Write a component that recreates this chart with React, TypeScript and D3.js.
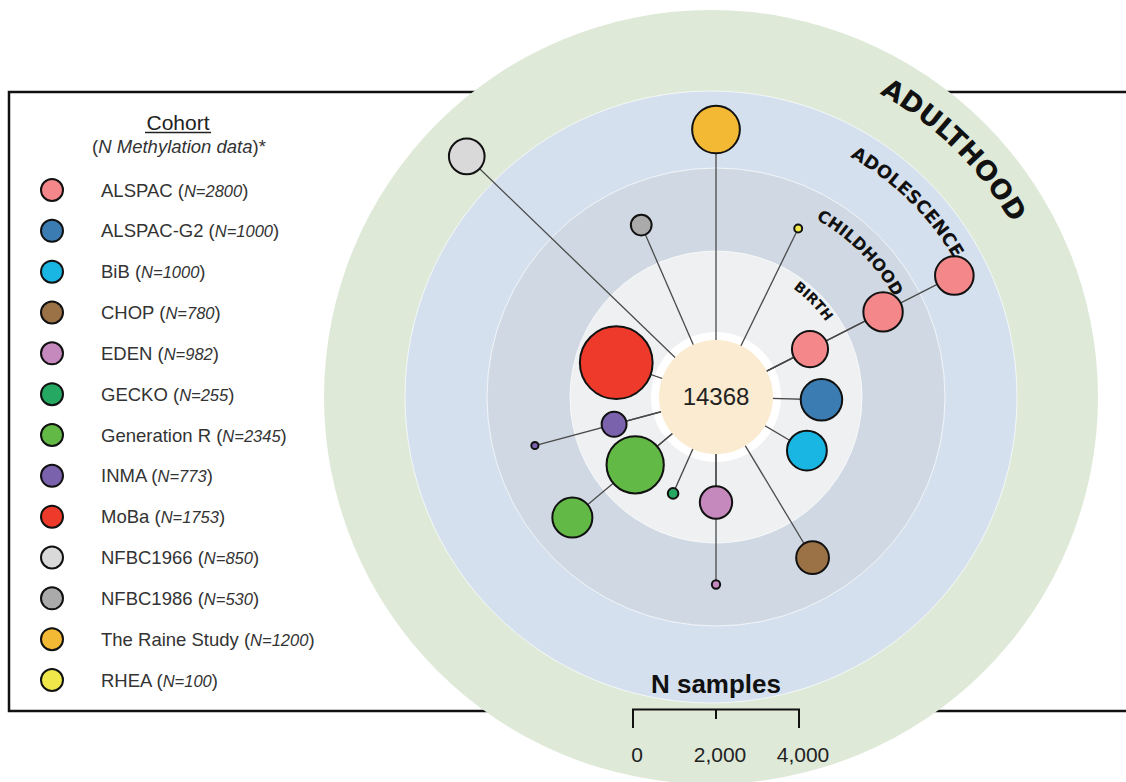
import React from "react";
import * as d3 from "d3";

// ---------- data ----------
const cohorts = ["ALSPAC", "ALSPAC-G2", "BiB", "CHOP", "EDEN", "GECKO", "Generation R", "INMA", "MoBa", "NFBC1966", "NFBC1986", "The Raine Study", "RHEA"];
const cohortN = [2800, 1000, 1000, 780, 982, 255, 2345, 773, 1753, 850, 530, 1200, 100];
const cohortColors = ["#f4878a", "#3b7db3", "#19b5e3", "#9b7245", "#c589be", "#24a862", "#62b946", "#7a62ad", "#ee3a2a", "#d9d9d9", "#aaaaaa", "#f4b934", "#f0e84a"];
const cohortAngle = [-27, 1.5, 30.5, 59, 90, 114, 140, 165, 199, 224, 246.5, 270, 296];

const stages = ["BIRTH", "CHILDHOOD", "ADOLESCENCE", "ADULTHOOD"];

const nodeCohort = ["ALSPAC", "ALSPAC", "ALSPAC", "ALSPAC-G2", "BiB", "CHOP", "EDEN", "EDEN", "GECKO", "Generation R", "Generation R", "INMA", "INMA", "MoBa", "NFBC1966", "NFBC1986", "The Raine Study", "RHEA"];
const nodeStage = ["BIRTH", "CHILDHOOD", "ADOLESCENCE", "BIRTH", "BIRTH", "CHILDHOOD", "BIRTH", "CHILDHOOD", "BIRTH", "BIRTH", "CHILDHOOD", "BIRTH", "CHILDHOOD", "BIRTH", "ADULTHOOD", "CHILDHOOD", "ADOLESCENCE", "CHILDHOOD"];
const nodeN = [870, 950, 930, 1000, 960, 790, 780, 200, 255, 1380, 965, 600, 173, 1753, 860, 500, 1150, 190];

const totalN = 14368;
const scaleTicks = [0, 2000, 4000];

// ---------- layout ----------
const CX = 716;
const CY = 397;
const bandEdges = [65, 146, 229, 306, 387];
const ringFill = ["#eef0f2", "#d0d9e3", "#d4e0ee", "#dee9d8"];

export default function App() {
  const diam = d3.scaleLinear().domain([0, 4000]).range([0, 166]);
  const color = d3.scaleOrdinal<string, string>().domain(cohorts).range(cohortColors);
  const angle = d3.scaleOrdinal<string, number>().domain(cohorts).range(cohortAngle);
  const stageDist = d3
    .scaleOrdinal<string, number>()
    .domain(stages)
    .range(stages.map((_, i) => (bandEdges[i] + bandEdges[i + 1]) / 2));

  const nodes = nodeCohort.map((c, i) => {
    const a = (angle(c) * Math.PI) / 180;
    const d = stageDist(nodeStage[i]);
    return {
      cohort: c,
      x: CX + d * Math.cos(a),
      y: CY + d * Math.sin(a),
      r: diam(nodeN[i]) / 2,
    };
  });

  const rings = [
    { cx: 711, cy: 397, r: bandEdges[4], fill: ringFill[3] },
    { cx: 711, cy: 397, r: bandEdges[3], fill: ringFill[2] },
    { cx: CX, cy: CY, r: bandEdges[2], fill: ringFill[1] },
    { cx: CX, cy: CY, r: bandEdges[1], fill: ringFill[0] },
  ];

  const labels = [
    { text: "BIRTH", r: 133, mid: -44.5, size: 14, cx: CX },
    { text: "CHILDHOOD", r: 204, mid: -45, size: 16.5, cx: CX },
    { text: "ADOLESCENCE", r: 275, mid: -45.5, size: 18, cx: CX },
    { text: "ADULTHOOD", r: 347, mid: -45.5, size: 27, cx: 711 },
  ];
  const labelPath = (l: any) => {
    const p = d3.path();
    const m = (l.mid * Math.PI) / 180;
    const a0 = m - Math.PI / 3;
    const a1 = m + Math.PI / 3;
    p.moveTo(l.cx + l.r * Math.cos(a0), CY + l.r * Math.sin(a0));
    p.arc(l.cx, CY, l.r, a0, a1, false);
    return p.toString();
  };

  const legendY = d3.scaleLinear().domain([0, cohorts.length - 1]).range([190, 680]);

  const sx = d3.scaleLinear().domain([0, 4000]).range([633, 633 + diam(4000)]);
  const fmt = d3.format(",");

  return (
    <svg
      width={1126}
      height={782}
      style={{ position: "absolute", left: 0, top: 0, background: "#fff" }}
      fontFamily="'Liberation Sans', Arial, sans-serif"
    >
      {/* legend frame */}
      <rect x={9} y={92} width={1140} height={619} fill="#fff" stroke="#111" strokeWidth={2.5} />

      {/* rings */}
      {rings.map((g, i) => (
        <circle key={i} cx={g.cx} cy={g.cy} r={g.r} fill={g.fill} stroke={i === 0 ? "none" : "#ffffff"} strokeOpacity={0.7} strokeWidth={1} />
      ))}

      {/* white halo around core */}
      <circle cx={CX} cy={CY} r={bandEdges[0]} fill="#ffffff" />

      {/* connecting lines */}
      {nodes.map((n, i) => (
        <line key={"l" + i} x1={CX} y1={CY} x2={n.x} y2={n.y} stroke="#4a4a4a" strokeWidth={1.3} />
      ))}

      {/* core */}
      <circle cx={CX} cy={CY} r={57} fill="#fbebd0" />
      <text x={CX} y={CY} dy="0.35em" textAnchor="middle" fontSize={24} fill="#222">
        {totalN}
      </text>

      {/* nodes */}
      {nodes.map((n, i) => (
        <circle key={"n" + i} cx={n.x} cy={n.y} r={n.r} fill={color(n.cohort)} stroke="#111" strokeWidth={2} />
      ))}

      {/* stage labels */}
      <defs>
        {labels.map((l, i) => (
          <path key={i} id={"stage-arc-" + i} d={labelPath(l)} fill="none" />
        ))}
      </defs>
      {labels.map((l, i) => (
        <text
          key={"t" + i}
          fontFamily="'DejaVu Sans', Verdana, sans-serif"
          fontWeight="bold"
          fontSize={l.size}
          fill="#111"
        >
          <textPath href={"#stage-arc-" + i} startOffset="50%" textAnchor="middle">
            {l.text}
          </textPath>
        </text>
      ))}

      {/* legend content */}
      <text x={178} y={130} textAnchor="middle" fontSize={21} fill="#222">
        Cohort
      </text>
      <line x1={145} x2={211} y1={132.5} y2={132.5} stroke="#222" strokeWidth={1.3} />
      <text x={179} y={153} textAnchor="middle" fontSize={18.5} fill="#333">
        (<tspan fontStyle="italic">N Methylation data</tspan>)*
      </text>
      {cohorts.map((c, i) => (
        <g key={"lg" + i} transform={`translate(0,${legendY(i)})`}>
          <circle cx={52} cy={0} r={11} fill={color(c)} stroke="#111" strokeWidth={2} />
          <text x={101} y={6.5} fontSize={18.5} fill="#333">
            {c + " ("}
            <tspan fontStyle="italic" fontSize={16.5}>{"N=" + cohortN[i]}</tspan>
            {")"}
          </text>
        </g>
      ))}

      {/* size scale */}
      <text x={716} y={693} textAnchor="middle" fontSize={26} fontWeight="bold" fill="#111">
        N samples
      </text>
      <path
        d={`M${sx(0)},728V709.5H${sx(4000)}V728M${sx(2000)},709.5V719`}
        fill="none"
        stroke="#111"
        strokeWidth={2}
      />
      {scaleTicks.map((t) => (
        <text key={t} x={sx(t) + 4} y={762} textAnchor="middle" fontSize={21} fill="#222">
          {fmt(t)}
        </text>
      ))}
    </svg>
  );
}
